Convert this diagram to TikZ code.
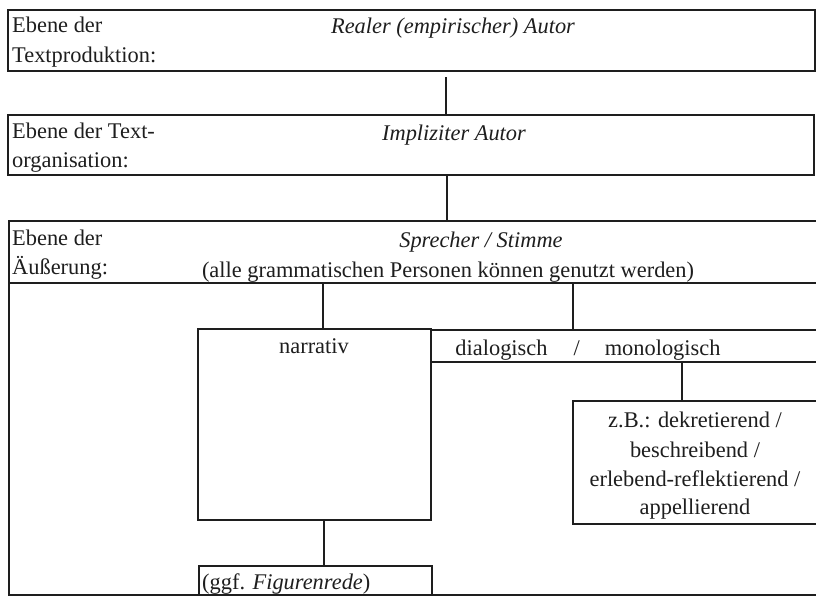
\documentclass[tikz,border=0pt]{standalone}
\usepackage{fontspec}
\setmainfont{Liberation Serif}
\definecolor{ink}{HTML}{1E1E1E}
\begin{document}
\begin{tikzpicture}[x=1pt,y=-1pt,
  box/.style={draw=ink,line width=1.7pt,rectangle,inner sep=0pt,anchor=north west},
  conn/.style={draw=ink,line width=2.6pt},
  txt/.style={inner sep=0pt,text=ink,font=\fontsize{22.4}{27}\selectfont},
  lbl/.style={txt,anchor=base west},
  ctr/.style={txt,anchor=base},
  itl/.style={txt,anchor=base,font=\fontsize{22.4}{27}\selectfont\itshape}]
\useasboundingbox[fill=white] (0,0) rectangle (816,600);

% boxes
\node[box,minimum width=807,minimum height=61] (prod) at (7,9) {};
\node[box,minimum width=806,minimum height=60] (org) at (7,114) {};
\node[box,minimum width=812,minimum height=374] (aeu) at (8,220) {};
\node[box,minimum width=233,minimum height=191] (narr) at (197,328) {};
\node[box,minimum width=390,minimum height=32] (dlg) at (430,329) {};
\node[box,minimum width=248,minimum height=123] (zb) at (572,400) {};
\node[box,minimum width=233,minimum height=29] (fig) at (198,565) {};

% texts
\node[lbl] (p1) at (12,32) {Ebene der};
\node[lbl] (p2) at (12,62) {Textproduktion:};
\node[itl] (pt) at (453,33) {Realer (empirischer) Autor};
\node[lbl] (o1) at (12,138) {Ebene der Text-};
\node[lbl] (o2) at (12,167) {organisation:};
\node[itl] (ot) at (454,140) {Impliziter Autor};
\node[lbl] (a1) at (12,245) {Ebene der};
\node[lbl] (a2) at (12,274) {Äußerung:};
\node[itl] (at) at (481,247) {Sprecher / Stimme};
\node[ctr] (as) at (448,277) {(alle grammatischen Personen können genutzt werden)};
\node[ctr] (nt) at (314,353) {narrativ};
\node[ctr] (dt) at (588,355) {dialogisch\hspace{26pt}/\hspace{25pt}monologisch};
\node[ctr] (z1) at (695,427) {z.B.: dekretierend /};
\node[ctr] (z2) at (695,457) {beschreibend /};
\node[ctr] (z3) at (695,486) {erlebend-reflektierend /};
\node[ctr] (z4) at (695,514) {appellierend};
\node[lbl] (ft) at (202,589) {(ggf. \textit{Figurenrede})};

% header line of the Äußerung box
\coordinate (hl) at (0,283);
\draw[draw=ink,line width=1.7pt] (aeu.west |- hl) -- (aeu.east |- hl);

% connectors
\coordinate (c1) at (446,77);
\coordinate (c2) at (447,0);
\coordinate (c3) at (323,0);
\coordinate (c4) at (573,0);
\coordinate (c5) at (682,0);
\coordinate (c6) at (324,0);
\draw[conn] (c1) -- (c1 |- org.north);
\draw[conn] (org.south -| c2) -- (aeu.north -| c2);
\draw[conn] (hl -| c3) -- (narr.north -| c3);
\draw[conn] (hl -| c4) -- (dlg.north -| c4);
\draw[conn] (dlg.south -| c5) -- (zb.north -| c5);
\draw[conn] (narr.south -| c6) -- (fig.north -| c6);
\end{tikzpicture}
\end{document}
